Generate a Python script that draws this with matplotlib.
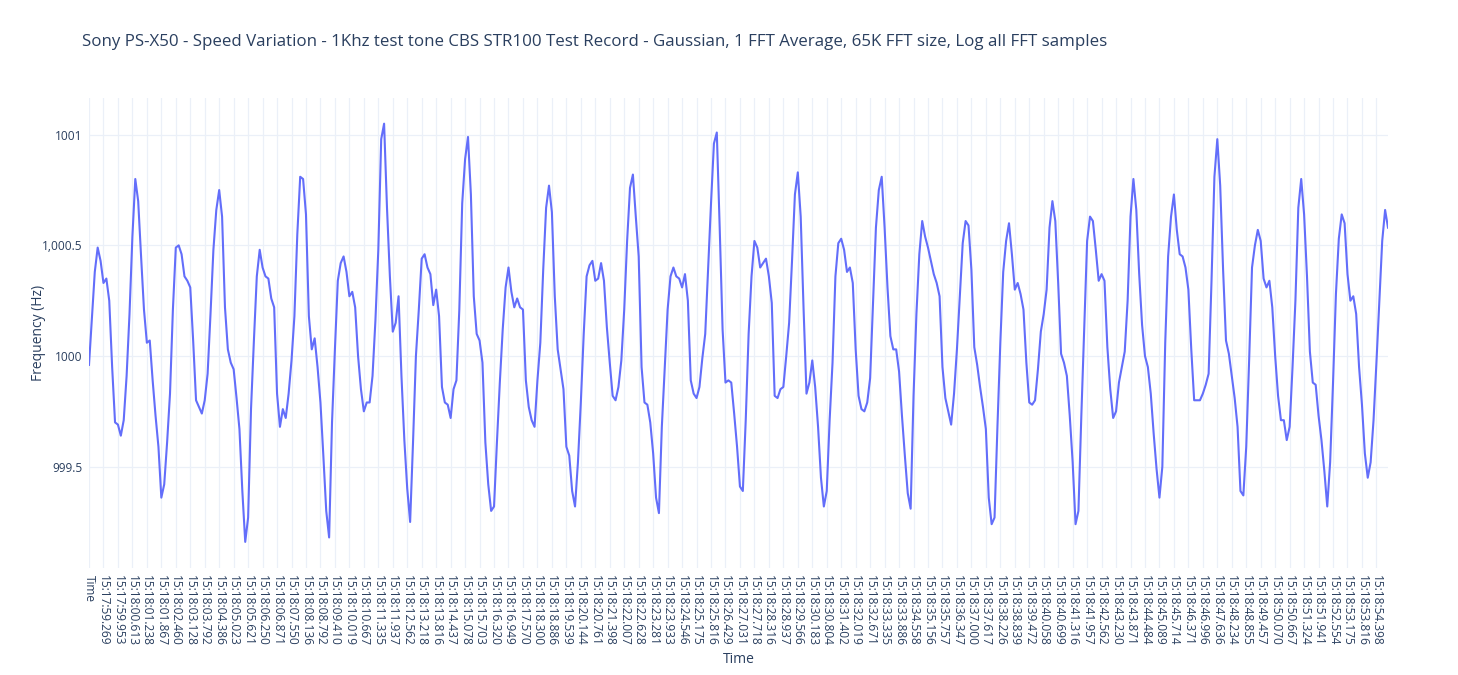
import numpy as np
import matplotlib.pyplot as plt

# Frequency readings (Hz), one per FFT sample
freq = [
    999.96, 1000.17, 1000.38, 1000.49, 1000.43, 1000.33, 1000.35, 1000.25, 999.95, 999.70,
    999.69, 999.64, 999.71, 999.91, 1000.19, 1000.54, 1000.80, 1000.70, 1000.45, 1000.21,
    1000.06, 1000.07, 999.89, 999.73, 999.59, 999.36, 999.42, 999.61, 999.83, 1000.21,
    1000.49, 1000.50, 1000.46, 1000.36, 1000.34, 1000.31, 1000.07, 999.80, 999.77, 999.74,
    999.80, 999.92, 1000.19, 1000.48, 1000.66, 1000.75, 1000.63, 1000.22, 1000.03, 999.97,
    999.94, 999.81, 999.67, 999.39, 999.16, 999.27, 999.76, 1000.07, 1000.36, 1000.48,
    1000.40, 1000.36, 1000.35, 1000.26, 1000.22, 999.83, 999.68, 999.76, 999.72, 999.83,
    999.98, 1000.18, 1000.55, 1000.81, 1000.80, 1000.64, 1000.18, 1000.03, 1000.08, 999.95,
    999.79, 999.55, 999.30, 999.18, 999.70, 1000.03, 1000.34, 1000.42, 1000.45, 1000.38,
    1000.27, 1000.29, 1000.22, 1000.00, 999.85, 999.75, 999.79, 999.79, 999.91, 1000.16,
    1000.48, 1000.98, 1001.05, 1000.67, 1000.36, 1000.11, 1000.15, 1000.27, 999.91, 999.62,
    999.40, 999.25, 999.61, 1000.00, 1000.21, 1000.44, 1000.46, 1000.40, 1000.37, 1000.23,
    1000.30, 1000.18, 999.86, 999.79, 999.78, 999.72, 999.85, 999.89, 1000.21, 1000.69,
    1000.89, 1000.99, 1000.73, 1000.27, 1000.10, 1000.07, 999.97, 999.61, 999.42, 999.30,
    999.32, 999.61, 999.88, 1000.12, 1000.31, 1000.40, 1000.29, 1000.22, 1000.26, 1000.22,
    1000.21, 999.89, 999.77, 999.71, 999.68, 999.89, 1000.06, 1000.39, 1000.67, 1000.77,
    1000.65, 1000.27, 1000.03, 999.94, 999.85, 999.59, 999.55, 999.39, 999.32, 999.52,
    999.79, 1000.10, 1000.36, 1000.41, 1000.43, 1000.34, 1000.35, 1000.42, 1000.34, 1000.13,
    999.97, 999.82, 999.80, 999.86, 999.98, 1000.21, 1000.52, 1000.76, 1000.82, 1000.63,
    1000.45, 999.95, 999.79, 999.78, 999.70, 999.56, 999.36, 999.29, 999.68, 999.95,
    1000.21, 1000.36, 1000.40, 1000.36, 1000.35, 1000.31, 1000.37, 1000.25, 999.89, 999.83,
    999.81, 999.86, 999.99, 1000.10, 1000.40, 1000.69, 1000.96, 1001.01, 1000.58, 1000.12,
    999.88, 999.89, 999.88, 999.74, 999.59, 999.41, 999.39, 999.71, 1000.10, 1000.36,
    1000.52, 1000.49, 1000.40, 1000.42, 1000.44, 1000.36, 1000.24, 999.82, 999.81, 999.85,
    999.86, 1000.00, 1000.15, 1000.43, 1000.73, 1000.83, 1000.63, 1000.21, 999.83, 999.88,
    999.98, 999.86, 999.68, 999.45, 999.32, 999.39, 999.71, 999.97, 1000.36, 1000.51,
    1000.53, 1000.48, 1000.38, 1000.40, 1000.33, 1000.03, 999.82, 999.76, 999.75, 999.79,
    999.90, 1000.24, 1000.58, 1000.75, 1000.81, 1000.58, 1000.31, 1000.09, 1000.03, 1000.03,
    999.93, 999.73, 999.55, 999.38, 999.31, 999.82, 1000.19, 1000.46, 1000.61, 1000.54,
    1000.49, 1000.43, 1000.37, 1000.33, 1000.27, 999.95, 999.81, 999.75, 999.69, 999.83,
    1000.03, 1000.27, 1000.51, 1000.61, 1000.59, 1000.39, 1000.04, 999.96, 999.86, 999.77,
    999.67, 999.36, 999.24, 999.27, 999.68, 1000.06, 1000.38, 1000.52, 1000.60, 1000.46,
    1000.30, 1000.33, 1000.28, 1000.21, 999.97, 999.79, 999.78, 999.80, 999.94, 1000.11,
    1000.19, 1000.30, 1000.58, 1000.70, 1000.61, 1000.33, 1000.01, 999.97, 999.91, 999.73,
    999.52, 999.24, 999.30, 999.73, 1000.13, 1000.52, 1000.63, 1000.61, 1000.48, 1000.34,
    1000.37, 1000.34, 1000.04, 999.85, 999.72, 999.75, 999.88, 999.95, 1000.02, 1000.25,
    1000.63, 1000.80, 1000.66, 1000.37, 1000.14, 1000.00, 999.95, 999.83, 999.65, 999.49,
    999.36, 999.50, 1000.06, 1000.45, 1000.63, 1000.73, 1000.57, 1000.46, 1000.45, 1000.40,
    1000.30, 1000.03, 999.80, 999.80, 999.80, 999.83, 999.87, 999.92, 1000.34, 1000.81,
    1000.98, 1000.77, 1000.39, 1000.07, 1000.01, 999.91, 999.81, 999.68, 999.39, 999.37,
    999.59, 999.98, 1000.40, 1000.50, 1000.57, 1000.52, 1000.35, 1000.31, 1000.34, 1000.22,
    1000.00, 999.82, 999.71, 999.71, 999.62, 999.68, 999.95, 1000.25, 1000.67, 1000.80,
    1000.64, 1000.36, 1000.02, 999.88, 999.87, 999.73, 999.62, 999.48, 999.32, 999.52,
    999.88, 1000.28, 1000.53, 1000.64, 1000.60, 1000.37, 1000.25, 1000.27, 1000.19, 999.95,
    999.78, 999.56, 999.45, 999.52, 999.71, 999.97, 1000.25, 1000.52, 1000.66, 1000.58,
]

# Category labels shown on the x axis (every 5th sample)
tick_labels = [
    "Time",
    "15:17:59.269", "15:17:59.953", "15:18:00.613", "15:18:01.238", "15:18:01.867",
    "15:18:02.460", "15:18:03.128", "15:18:03.792", "15:18:04.386", "15:18:05.023",
    "15:18:05.621", "15:18:06.250", "15:18:06.871", "15:18:07.550", "15:18:08.136",
    "15:18:08.792", "15:18:09.410", "15:18:10.019", "15:18:10.667", "15:18:11.335",
    "15:18:11.937", "15:18:12.562", "15:18:13.218", "15:18:13.816", "15:18:14.437",
    "15:18:15.078", "15:18:15.703", "15:18:16.320", "15:18:16.949", "15:18:17.570",
    "15:18:18.300", "15:18:18.886", "15:18:19.539", "15:18:20.144", "15:18:20.761",
    "15:18:21.398", "15:18:22.007", "15:18:22.628", "15:18:23.281", "15:18:23.933",
    "15:18:24.546", "15:18:25.175", "15:18:25.816", "15:18:26.429", "15:18:27.031",
    "15:18:27.718", "15:18:28.316", "15:18:28.937", "15:18:29.566", "15:18:30.183",
    "15:18:30.804", "15:18:31.402", "15:18:32.019", "15:18:32.671", "15:18:33.335",
    "15:18:33.886", "15:18:34.558", "15:18:35.156", "15:18:35.757", "15:18:36.347",
    "15:18:37.000", "15:18:37.617", "15:18:38.226", "15:18:38.839", "15:18:39.472",
    "15:18:40.058", "15:18:40.699", "15:18:41.316", "15:18:41.957", "15:18:42.562",
    "15:18:43.230", "15:18:43.871", "15:18:44.484", "15:18:45.089", "15:18:45.714",
    "15:18:46.371", "15:18:46.996", "15:18:47.636", "15:18:48.234", "15:18:48.855",
    "15:18:49.457", "15:18:50.070", "15:18:50.667", "15:18:51.324", "15:18:51.941",
    "15:18:52.554", "15:18:53.175", "15:18:53.816", "15:18:54.398",
]

y_ticks = [999.5, 1000, 1000.5, 1001]
y_tick_labels = ["999.5", "1000", "1,000.5", "1001"]

title = ("Sony PS-X50 - Speed Variation - 1Khz test tone CBS STR100 Test Record - "
         "Gaussian, 1 FFT Average, 65K FFT size, Log all FFT samples")

text_col = "#2a3f5f"
grid_col = "#EBF0F8"
plt.rcParams['font.family'] = ['Open Sans', 'DejaVu Sans']

fig = plt.figure(figsize=(14.58, 6.75), dpi=100)
ax = fig.add_axes([89 / 1458, 1 - 568 / 675, (1388 - 89) / 1458, (568 - 98) / 675])

x = np.arange(len(freq))
ax.plot(x, freq, color="#636EFA", linewidth=1.5, zorder=3)

ax.set_xlim(0, len(freq) - 1)
ax.set_ylim(999.042, 1001.166)

ax.set_xticks(x[::5][:len(tick_labels)])
ax.set_xticklabels(tick_labels, rotation=-90, fontsize=8.6, color=text_col)
ax.set_yticks(y_ticks)
ax.set_yticklabels(y_tick_labels, fontsize=8.6, color=text_col)
ax.tick_params(axis="both", length=0, pad=5)

ax.grid(True, color=grid_col, linewidth=0.9)
ax.set_axisbelow(True)
for s in ax.spines.values():
    s.set_visible(False)

ax.set_xlabel("Time", fontsize=10, color=text_col)
ax.xaxis.set_label_coords(0.5, -0.179)
ax.set_ylabel("Frequency (Hz)", fontsize=10, color=text_col)
ax.yaxis.set_label_coords(-0.033, 0.5)

fig.text(82 / 1458, 1 - 42 / 675, title, fontsize=12.2, color=text_col,
         ha="left", va="center")

fig.savefig("out.png", dpi=100, facecolor="white")
